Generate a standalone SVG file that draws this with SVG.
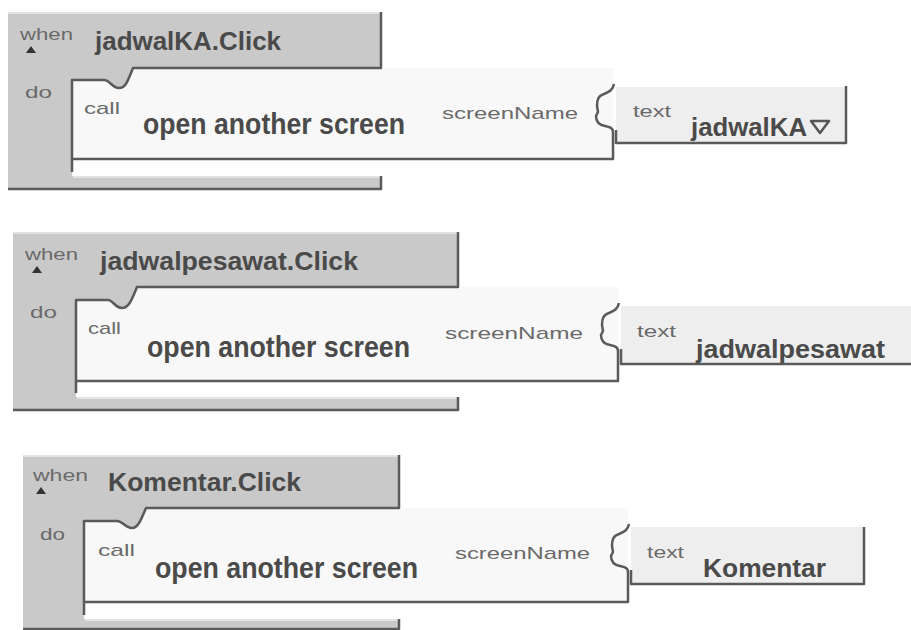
<svg xmlns="http://www.w3.org/2000/svg" xmlns:xlink="http://www.w3.org/1999/xlink" width="911" height="630" viewBox="0 0 911 630">
<style>
.hdr{fill:#c9c9c9}
.edge{fill:none;stroke:#5a5a5a;stroke-width:2.5;stroke-linejoin:round}
.hi{fill:none;stroke:#e2e2e2;stroke-width:2}
.call{fill:#f8f8f8}
.tb{fill:#eeeeee}
.sm{font-family:"Liberation Sans",Arial,sans-serif;font-size:17px;fill:#6a6a6a}
.bd{font-family:"Liberation Sans",Arial,sans-serif;font-weight:bold;font-size:26px;fill:#4a4a4a}
.big{font-size:30px}
.tri{fill:#333}
.dd{fill:none;stroke:#555;stroke-width:2.5;stroke-linejoin:round}
</style>
<defs>
<path id="puz" class="edge" d="M 1 16 C 0 22 -4 24 -9 26 C -15 28 -16 32 -16 38 L -15 44 L -17 48 C -17 54 -14 57 -8 58 C -3 59 0 60 0 64"/>
</defs>
<rect width="911" height="630" fill="#ffffff"/>
<g id="connectors"/>

<g id="block1">
<path class="hdr" d="M 8 12 H 381 V 68 H 133 C 128 80 126 88 119 88 C 112 88 110 80 104 80 H 72 V 176 H 381 V 189 H 8 Z"/>
<path class="hi" d="M 8 13 H 380"/>
<path class="call" d="M 72 80 H 104 C 110 80 112 88 119 88 C 126 88 128 80 133 68 H 613 V 159 H 72 Z"/>
<rect class="tb" x="616" y="87" width="230" height="56"/>
<path class="edge" d="M 381 12 V 68 H 133 C 128 80 126 88 119 88 C 112 88 110 80 104 80 H 72 V 172"/>
<path class="edge" d="M 72 159 H 613 V 132"/>
<path class="edge" d="M 616 130 V 143 H 846 V 86"/>
<use xlink:href="#puz" href="#puz" transform="translate(613,68)"/>
<path class="hi" d="M 73 177 H 380"/>
<path class="edge" d="M 8 189 H 381 V 176"/>
<text class="sm" x="20" y="40" textLength="53" lengthAdjust="spacingAndGlyphs">when</text>
<polygon class="tri" points="31,46 26,53 36,53"/>
<text class="bd" x="95" y="50" textLength="186" lengthAdjust="spacingAndGlyphs">jadwalKA.Click</text>
<text class="sm" x="25" y="98" textLength="27" lengthAdjust="spacingAndGlyphs">do</text>
<text class="sm" x="84" y="114" textLength="36" lengthAdjust="spacingAndGlyphs">call</text>
<text class="bd big" x="143" y="134" textLength="262" lengthAdjust="spacingAndGlyphs">open another screen</text>
<text class="sm" x="442" y="119" font-size="18" textLength="136" lengthAdjust="spacingAndGlyphs">screenName</text>
<text class="sm" x="633" y="117" textLength="38" lengthAdjust="spacingAndGlyphs">text</text>
<text class="bd" x="691" y="136" textLength="116" lengthAdjust="spacingAndGlyphs">jadwalKA</text>
<polygon class="dd" points="811,121 829,121 820,133"/>
</g>

<g id="block2">
<path class="hdr" d="M 13 232 H 458 V 287 H 137 C 132 299 129 308 122 308 C 115 308 113 300 108 300 H 76 V 397 H 458 V 410 H 13 Z"/>
<path class="hi" d="M 13 233 H 457"/>
<path class="call" d="M 76 300 H 108 C 114 300 116 308 122 308 C 129 308 132 299 137 287 H 618 V 381 H 76 Z"/>
<rect class="tb" x="621" y="306" width="290" height="58"/>
<path class="edge" d="M 458 232 V 287 H 137 C 132 299 129 308 122 308 C 115 308 113 300 108 300 H 76 V 393"/>
<path class="edge" d="M 76 381 H 618 V 351"/>
<path class="edge" d="M 621 349 V 364 H 911"/>
<use xlink:href="#puz" href="#puz" transform="translate(618,287)"/>
<path class="hi" d="M 77 398 H 457"/>
<path class="edge" d="M 13 410 H 458 V 397"/>
<text class="sm" x="25" y="260" textLength="53" lengthAdjust="spacingAndGlyphs">when</text>
<polygon class="tri" points="37,266 32,273 42,273"/>
<text class="bd" x="100" y="270" textLength="258" lengthAdjust="spacingAndGlyphs">jadwalpesawat.Click</text>
<text class="sm" x="30" y="318" textLength="27" lengthAdjust="spacingAndGlyphs">do</text>
<text class="sm" x="88" y="334" textLength="33" lengthAdjust="spacingAndGlyphs">call</text>
<text class="bd big" x="147" y="357" textLength="263" lengthAdjust="spacingAndGlyphs">open another screen</text>
<text class="sm" x="445" y="339" font-size="18" textLength="138" lengthAdjust="spacingAndGlyphs">screenName</text>
<text class="sm" x="637" y="337" textLength="39" lengthAdjust="spacingAndGlyphs">text</text>
<text class="bd" x="696" y="358" textLength="189" lengthAdjust="spacingAndGlyphs">jadwalpesawat</text>
</g>

<g id="block3">
<path class="hdr" d="M 23 455 H 399 V 508 H 146 C 141 520 138 528 132 528 C 125 528 123 521 117 521 H 84 V 619 H 399 V 629 H 23 Z"/>
<path class="hi" d="M 23 456 H 398"/>
<path class="call" d="M 84 521 H 117 C 123 521 125 528 132 528 C 138 528 141 520 146 508 H 628 V 602 H 84 Z"/>
<rect class="tb" x="631" y="527" width="233" height="57"/>
<path class="edge" d="M 399 455 V 508 H 146 C 141 520 138 528 132 528 C 125 528 123 521 117 521 H 84 V 615"/>
<path class="edge" d="M 84 602 H 628 V 572"/>
<path class="edge" d="M 631 570 V 584 H 864 V 527"/>
<use xlink:href="#puz" href="#puz" transform="translate(628,508)"/>
<path class="hi" d="M 85 620 H 398"/>
<path class="edge" d="M 23 629 H 399 V 619"/>
<text class="sm" x="33" y="481" textLength="55" lengthAdjust="spacingAndGlyphs">when</text>
<polygon class="tri" points="41,487 36,494 46,494"/>
<text class="bd" x="108" y="491" textLength="193" lengthAdjust="spacingAndGlyphs">Komentar.Click</text>
<text class="sm" x="40" y="540" textLength="25" lengthAdjust="spacingAndGlyphs">do</text>
<text class="sm" x="98" y="556" textLength="37" lengthAdjust="spacingAndGlyphs">call</text>
<text class="bd big" x="155" y="578" textLength="263" lengthAdjust="spacingAndGlyphs">open another screen</text>
<text class="sm" x="455" y="559" font-size="18" textLength="135" lengthAdjust="spacingAndGlyphs">screenName</text>
<text class="sm" x="647" y="558" textLength="37" lengthAdjust="spacingAndGlyphs">text</text>
<text class="bd" x="703" y="577" textLength="123" lengthAdjust="spacingAndGlyphs">Komentar</text>
</g>
</svg>
